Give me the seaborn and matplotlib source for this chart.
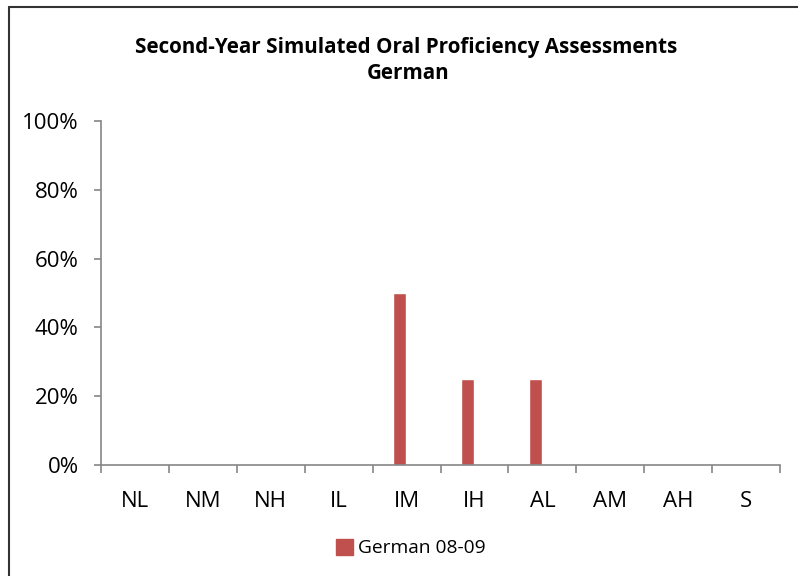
import matplotlib
matplotlib.use("Agg")
import matplotlib.pyplot as plt
import seaborn as sns
import pandas as pd
from matplotlib.lines import Line2D
from matplotlib.ticker import FixedLocator, PercentFormatter

categories = ["NL", "NM", "NH", "IL", "IM", "IH", "AL", "AM", "AH", "S"]
german_0809 = [0, 0, 0, 0, 0.50, 0.25, 0.25, 0, 0, 0]
series_name = "German 08-09"
title_lines = ["Second-Year Simulated Oral Proficiency Assessments", "German"]
y_ticks = [0, 0.2, 0.4, 0.6, 0.8, 1.0]

sns.set_style("white")
FAMILY = ["Open Sans", "DejaVu Sans"]
plt.rcParams["font.family"] = FAMILY
plt.rcParams["text.color"] = "black"
plt.rcParams["xtick.color"] = "black"
plt.rcParams["ytick.color"] = "black"

df = pd.DataFrame({"level": categories, "share": german_0809, "series": series_name})

fig = plt.figure(figsize=(7.98, 5.76), dpi=100)
renderer = fig.canvas.get_renderer()


def fit_size(text, target_px, weight="normal"):
    t = fig.text(0, 0, text, fontsize=10, fontweight=weight)
    w = t.get_window_extent(renderer=renderer).width
    t.remove()
    return 10 * target_px / w


title_size = fit_size(title_lines[0], 543, "bold")
tick_size = fit_size("100%", 57)
legend_size = fit_size(series_name, 128)

ax = fig.add_axes([101/798, 1-465/576, (780-101)/798, (465-121)/576])

bar_color = "#C0504D"
sns.barplot(data=df, x="level", y="share", hue="series", palette=[bar_color],
            width=0.19, ax=ax, legend=False, saturation=1)
# offset bars slightly left, as in the reference
for p in ax.patches:
    p.set_x(p.get_x() - 0.105)

ax.set_xlim(-0.5, len(categories) - 0.5)
ax.set_ylim(0, 1.0)
ax.set_yticks(y_ticks)
ax.yaxis.set_major_formatter(PercentFormatter(1.0, decimals=0))
ax.set_xlabel("")
ax.set_ylabel("")

axis_gray = "#868686"
for s in ["top", "right"]:
    ax.spines[s].set_visible(False)
for s in ["left", "bottom"]:
    ax.spines[s].set_color(axis_gray)
    ax.spines[s].set_linewidth(1.2)

ax.tick_params(axis="y", which="major", direction="out", length=5, width=1.2,
               color=axis_gray, labelsize=tick_size, labelcolor="black", left=True, pad=11)
ax.tick_params(axis="x", which="major", length=0, labelsize=tick_size, labelcolor="black", pad=19)
ax.xaxis.set_minor_locator(FixedLocator([i - 0.5 for i in range(len(categories) + 1)]))
ax.tick_params(axis="x", which="minor", direction="out", length=6, width=1.2,
               color=axis_gray, bottom=True)

fig.text(0.509, 1-47/576, title_lines[0], ha="center", va="center",
         fontsize=title_size, fontweight="bold", color="black")
fig.text(0.511, 1-73.5/576, title_lines[1], ha="center", va="center",
         fontsize=title_size, fontweight="bold", color="black")

handle = plt.Rectangle((0, 0), 1, 1, color=bar_color)
fig.legend([handle], [series_name], loc="center", bbox_to_anchor=(411/798, 1-548/576),
           frameon=False, fontsize=legend_size, handlelength=0.9, handleheight=0.9,
           handletextpad=0.25, labelcolor="black")

fig.add_artist(Line2D([9/798, 9/798], [0, 1-7/576], transform=fig.transFigure,
                      color="#333333", linewidth=1.5))
fig.add_artist(Line2D([9/798, 1], [1-7/576, 1-7/576], transform=fig.transFigure,
                      color="#333333", linewidth=1.5))

fig.savefig("out.png", dpi=100)
